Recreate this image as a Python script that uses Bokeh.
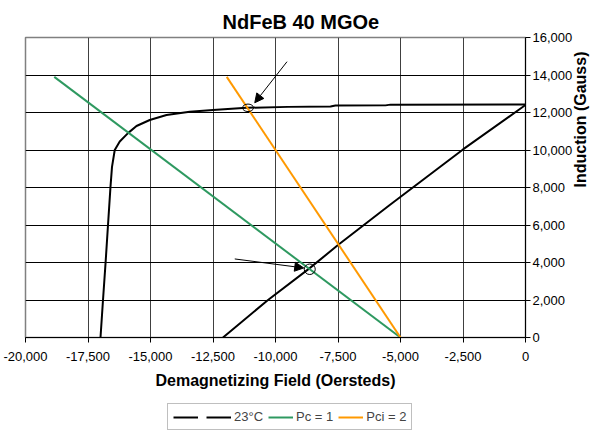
import math
from bokeh.plotting import figure
from bokeh.layouts import column
from bokeh.models import (Range1d, FixedTicker, NumeralTickFormatter, Legend, LegendItem,
                          Arrow, NormalHead)
from bokeh.embed import file_html
from bokeh.resources import INLINE

# ---- data ----
demag_h = [-17000, -16900, -16790, -16700, -16600, -16540, -16430, -16230, -15900, -15560,
           -15030, -14360, -13430, -12500, -11160, -9500, -7800, -7600, -5600, -5400, 0]
demag_b = [0, 2000, 4130, 6000, 8050, 9100, 10000, 10450, 10900, 11280,
           11600, 11870, 12040, 12130, 12250, 12300, 12320, 12370, 12380, 12420, 12430]

line_h = [-12100, -10300, -8630, -7500, -5430, -2500, 0]
line_b = [0, 2000, 3700, 4930, 7070, 10030, 12400]

pc_h = [-18850, -5000]
pc_b = [13900, 0]

pci_h = [-11950, -5000]
pci_b = [13900, 0]

op_h = [-11100, -8630]
op_b = [12250, 3640]

arrow_x0 = [-9540, -11630]
arrow_y0 = [14710, 4190]
arrow_x1 = [-10830, -8870]
arrow_y1 = [12520, 3710]

x_ticks = [-20000, -17500, -15000, -12500, -10000, -7500, -5000, -2500, 0]
y_ticks = [0, 2000, 4000, 6000, 8000, 10000, 12000, 14000, 16000]

series_labels = [" ", "23°C", "Pc = 1", "Pci = 2"]
series_colors = ["black", "black", "#2E9960", "#FF9900"]
series_h = [demag_h, line_h, pc_h, pci_h]
series_b = [demag_b, line_b, pc_b, pci_b]

FONT = "Liberation Sans"

p = figure(frame_width=500, frame_height=300,
           x_range=Range1d(-20000, 0), y_range=Range1d(0, 16000),
           output_backend="svg", toolbar_location=None, y_axis_location="right",
           min_border_left=25, min_border_top=37, min_border_bottom=60, min_border_right=0)

p.title.text = "NdFeB 40 MGOe"
p.title.text_font = FONT
p.title.text_font_size = "20px"
p.title.text_font_style = "bold"
p.title.text_color = "black"
p.title.align = "left"
p.title.offset = 197
p.title.standoff = 10

p.outline_line_color = "#808080"
p.outline_line_width = 1.5

# axes
xa = p.xaxis[0]
xa.ticker = FixedTicker(ticks=x_ticks)
xa.formatter = NumeralTickFormatter(format="0,0")
xa.axis_label = "Demagnetizing Field (Oersteds)"
ya = p.yaxis[0]
ya.ticker = FixedTicker(ticks=y_ticks)
ya.formatter = NumeralTickFormatter(format="0,0")
ya.axis_label = "Induction (Gauss)"
ya.axis_label_orientation = math.pi / 2
for ax in (xa, ya):
    ax.axis_line_color = "black"
    ax.major_tick_line_color = "black"
    ax.major_tick_in = 0
    ax.major_tick_out = 5
    ax.minor_tick_line_color = None
    ax.major_label_text_font = FONT
    ax.major_label_text_font_size = "13px"
    ax.major_label_text_color = "black"
    ax.axis_label_text_font = FONT
    ax.axis_label_text_font_size = "16px"
    ax.axis_label_text_font_style = "bold"
    ax.axis_label_text_color = "black"
xa.major_label_standoff = 9
xa.axis_label_standoff = 8
ya.major_label_standoff = 2
ya.axis_label_standoff = 5

p.xgrid.ticker = FixedTicker(ticks=x_ticks)
p.ygrid.ticker = FixedTicker(ticks=y_ticks)
p.xgrid.grid_line_color = "#404040"
p.ygrid.grid_line_color = "black"
p.xgrid.grid_line_width = 1
p.ygrid.grid_line_width = 1

# series
for h, b, col in zip(series_h, series_b, series_colors):
    p.line(h, b, line_color=col, line_width=2)

# operating point markers
p.ellipse(x=op_h, y=op_b, width=[440, 440], height=[400, 560],
          fill_color=None, line_color="black", line_width=1)

# arrows
for i in range(len(arrow_x0)):
    p.add_layout(Arrow(end=NormalHead(size=9, fill_color="black", line_color="black"),
                       x_start=arrow_x0[i], y_start=arrow_y0[i],
                       x_end=arrow_x1[i], y_end=arrow_y1[i],
                       line_color="black", line_width=1))

# legend strip (separate figure under the chart; series lie outside its view)
lf = figure(frame_width=500, frame_height=33, x_range=Range1d(0, 1), y_range=Range1d(0, 1),
            output_backend="svg", toolbar_location=None,
            x_axis_type=None, y_axis_type=None,
            min_border_left=25, min_border_right=0, min_border_top=0, min_border_bottom=0)
lf.outline_line_color = None
lf.xgrid.visible = False
lf.ygrid.visible = False
items = []
for lab, col, h, b in zip(series_labels, series_colors, series_h, series_b):
    r = lf.line(h, b, line_color=col, line_width=2)
    items.append(LegendItem(label=lab, renderers=[r]))
legend = Legend(items=items, orientation="horizontal", location=(142, 0))
legend.label_text_font = FONT
legend.label_text_font_size = "13px"
legend.glyph_width = 25
legend.glyph_height = 14
legend.label_height = 14
legend.label_width = 0
legend.label_standoff = 3
legend.spacing = 5
legend.padding = 5
legend.margin = 0
legend.border_line_color = "#808080"
legend.border_line_width = 1.5
legend.background_fill_alpha = 1
lf.add_layout(legend, "center")

layout = column(p, lf, spacing=0)
open("out.html", "w").write(file_html(layout, INLINE))
